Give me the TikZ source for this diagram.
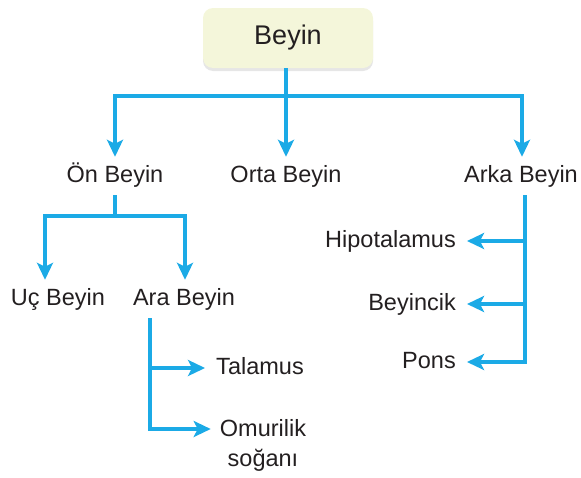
\documentclass[tikz,border=0pt]{standalone}
\usepackage{fontspec}
\setmainfont{Liberation Sans}
\usetikzlibrary{arrows.meta, positioning, shadows}

\definecolor{lineblue}{HTML}{1BAAE6}
\definecolor{boxfill}{HTML}{F4F6DA}
\definecolor{labeltext}{HTML}{231F20}

\begin{document}
\begin{tikzpicture}[x=1pt, y=-1pt,
	part/.style={text=labeltext, font=\fontsize{23.5}{30}\selectfont,
		text height=15pt, text depth=3pt, inner xsep=11pt, inner ysep=10pt, anchor=base},
	conn/.style={draw=lineblue, line width=3.3pt},
	arr/.style={conn, -{Stealth[length=17pt, width=16pt, inset=4pt]}}
]
	\useasboundingbox (0,0) rectangle (581,477);

	% top box
	\node[rounded corners=10pt,
		fill=boxfill,
		minimum width=170pt,
		minimum height=60pt,
		drop shadow={opacity=0.2, shadow xshift=0pt, shadow yshift=-3pt},
		text=labeltext,
		font=\fontsize{27}{32}\selectfont
	] (beyin) at (288,38) {Beyin};

	\node[part] (on) at (115,182) {Ön Beyin};
	\node[part] (orta) at (286,182) {Orta Beyin};
	\node[part] (arka) at (521,182) {Arka Beyin};

	\node[part] (uc) at (58,305) {Uç Beyin};
	\node[part] (ara) at (184,305) {Ara Beyin};

	\node[part] (talamus) at (260,374) {Talamus};
	\node[text=labeltext, font=\fontsize{23.5}{30}\selectfont,
		align=center, inner sep=0pt, anchor=north] (omurilik) at (263,419) {Omurilik\\soğanı};

	\node[part, anchor=base east] (hipo) at (467,247) {Hipotalamus};
	\node[part, anchor=base east] (beyincik) at (467,310) {Beyincik};
	\node[part, anchor=base east] (pons) at (467,368) {Pons};

	\coordinate (hub) at (286,96);
	\coordinate (onfork) at (115,216);

	\draw[conn] (beyin.south -| hub) -- (hub);
	\draw[arr] (hub) -| (on);
	\draw[arr] (hub) -- (orta);
	\draw[arr] (hub) -| ([xshift=1pt]arka.north);

	\draw[conn] (on) -- (onfork);
	\draw[arr] (onfork) -| ([xshift=-13pt]uc.north);
	\draw[arr] (onfork) -| ([xshift=1pt]ara.north);

	\draw[arr] ([xshift=-34pt]ara.south) |- (talamus);
	\draw[arr] ([xshift=-34pt]ara.south) |- ([xshift=-9pt, yshift=-10pt]omurilik.north west);

	\draw[arr] ([xshift=4pt]arka.south) |- (hipo);
	\draw[arr] ([xshift=4pt]arka.south) |- (beyincik);
	\draw[arr] ([xshift=4pt]arka.south) |- (pons);
\end{tikzpicture}
\end{document}
